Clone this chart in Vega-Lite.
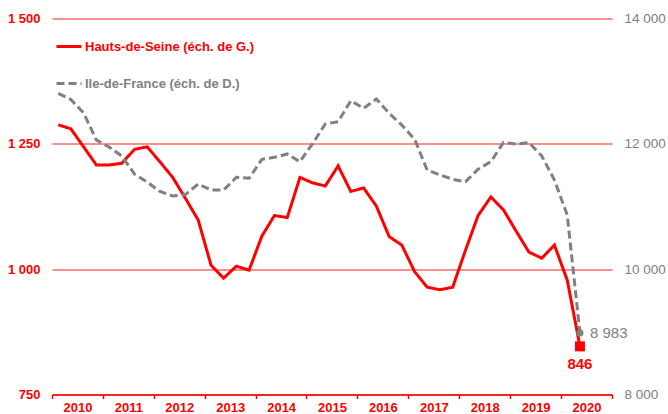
{
  "$schema": "https://vega.github.io/schema/vega-lite/v6.json",
  "width": 560,
  "height": 376,
  "autosize": {"type": "none"},
  "padding": {"left": 52, "top": 18.5, "right": 56, "bottom": 19.5},
  "background": "white",
  "config": {
    "font": "Liberation Sans",
    "view": {"stroke": null},
    "locale": {"number": {"decimal": ",", "thousands": " ", "grouping": [3], "currency": ["", " €"]}}
  },
  "data": {
    "values": [
      {"date": "2010-02-15", "hds": 1288, "idf": 12806},
      {"date": "2010-05-16", "hds": 1280, "idf": 12707},
      {"date": "2010-08-16", "hds": 1244, "idf": 12492},
      {"date": "2010-11-15", "hds": 1208, "idf": 12061},
      {"date": "2011-02-15", "hds": 1208, "idf": 11949},
      {"date": "2011-05-16", "hds": 1211, "idf": 11806},
      {"date": "2011-08-16", "hds": 1239, "idf": 11518},
      {"date": "2011-11-15", "hds": 1244, "idf": 11391},
      {"date": "2012-02-15", "hds": 1214, "idf": 11239},
      {"date": "2012-05-16", "hds": 1183, "idf": 11167},
      {"date": "2012-08-16", "hds": 1141, "idf": 11191},
      {"date": "2012-11-15", "hds": 1098, "idf": 11359},
      {"date": "2013-02-15", "hds": 1008, "idf": 11263},
      {"date": "2013-05-16", "hds": 982, "idf": 11263},
      {"date": "2013-08-16", "hds": 1006, "idf": 11466},
      {"date": "2013-11-15", "hds": 998, "idf": 11450},
      {"date": "2014-02-15", "hds": 1066, "idf": 11753},
      {"date": "2014-05-16", "hds": 1107, "idf": 11785},
      {"date": "2014-08-16", "hds": 1103, "idf": 11838},
      {"date": "2014-11-15", "hds": 1183, "idf": 11715},
      {"date": "2015-02-15", "hds": 1172, "idf": 12008},
      {"date": "2015-05-16", "hds": 1166, "idf": 12316},
      {"date": "2015-08-16", "hds": 1206, "idf": 12353},
      {"date": "2015-11-15", "hds": 1155, "idf": 12688},
      {"date": "2016-02-15", "hds": 1162, "idf": 12567},
      {"date": "2016-05-16", "hds": 1126, "idf": 12715},
      {"date": "2016-08-16", "hds": 1065, "idf": 12487},
      {"date": "2016-11-15", "hds": 1048, "idf": 12300},
      {"date": "2017-02-15", "hds": 995, "idf": 12072},
      {"date": "2017-05-16", "hds": 964, "idf": 11582},
      {"date": "2017-08-16", "hds": 959, "idf": 11503},
      {"date": "2017-11-15", "hds": 964, "idf": 11434},
      {"date": "2018-02-15", "hds": 1038, "idf": 11396},
      {"date": "2018-05-16", "hds": 1107, "idf": 11594},
      {"date": "2018-08-16", "hds": 1144, "idf": 11715},
      {"date": "2018-11-15", "hds": 1118, "idf": 12024},
      {"date": "2019-02-15", "hds": 1075, "idf": 11997},
      {"date": "2019-05-16", "hds": 1034, "idf": 12018},
      {"date": "2019-08-16", "hds": 1022, "idf": 11806},
      {"date": "2019-11-15", "hds": 1048, "idf": 11423},
      {"date": "2020-02-15", "hds": 978, "idf": 10864},
      {"date": "2020-05-16", "hds": 846, "idf": 8983}
    ]
  },
  "transform": [{"fold": ["hds", "idf"], "as": ["serie", "valeur"]}],
  "encoding": {
    "x": {
      "field": "date",
      "type": "temporal",
      "scale": {"type": "utc", "domain": [1262304000000, 1609459200000]},
      "axis": {
        "title": null,
        "values": [1262304000000, 1293840000000, 1325376000000, 1356998400000, 1388534400000, 1420070400000, 1451606400000, 1483228800000, 1514764800000, 1546300800000, 1577836800000, 1609459200000],
        "format": "%Y",
        "labelExpr": "datum.label == '2021' ? '' : datum.label",
        "labelOffset": 25.5,
        "labelFlush": false,
        "labelOverlap": false,
        "labelColor": "#ff0000",
        "labelFontWeight": "bold",
        "labelFontSize": 13,
        "labelPadding": 3,
        "domainColor": "#ff0000",
        "domainWidth": 1.5,
        "tickColor": "#ff0000",
        "tickWidth": 1.5,
        "tickSize": 4,
        "grid": false,
        "zindex": 1
      }
    }
  },
  "layer": [
    {
      "transform": [{"filter": "datum.serie == 'hds'"}],
      "encoding": {
        "y": {
          "field": "valeur",
          "type": "quantitative",
          "scale": {"domain": [750, 1500], "nice": false, "zero": false},
          "axis": {
            "orient": "left",
            "title": null,
            "values": [750, 1000, 1250, 1500],
            "format": ",d",
            "labelColor": "#ff0000",
            "labelFontWeight": "bold",
            "labelFontSize": 13,
            "labelPadding": 12,
            "domain": false,
            "ticks": false,
            "grid": true,
            "gridColor": "#ff6a6a",
            "gridWidth": 1.5
          }
        }
      },
      "layer": [
        {
          "mark": {"type": "line", "strokeWidth": 3},
          "encoding": {
            "color": {
              "field": "serie",
              "type": "nominal",
              "scale": {"domain": ["hds", "idf"], "range": ["#ff0000", "#808080"]},
              "legend": {
                "title": null,
                "orient": "none",
                "legendX": 3,
                "legendY": 14,
                "padding": 0,
                "symbolType": "stroke",
                "symbolSize": 625,
                "symbolStrokeWidth": 3,
                "rowPadding": 16,
                "labelOffset": 2,
                "labelLimit": 400,
                "labelFontSize": 13,
                "labelFontWeight": "bold",
                "labelExpr": "datum.value == 'hds' ? 'Hauts-de-Seine (éch. de G.)' : 'Ile-de-France (éch. de D.)'",
                "encode": {"labels": {"update": {"fill": {"signal": "datum.value == 'hds' ? '#ff0000' : '#808080'"}}}}
              }
            },
            "strokeDash": {
              "field": "serie",
              "type": "nominal",
              "scale": {"domain": ["hds", "idf"], "range": [[1, 0], [8, 4]]},
              "legend": {
                "title": null,
                "orient": "none",
                "legendX": 3,
                "legendY": 14,
                "padding": 0,
                "symbolType": "stroke",
                "symbolSize": 625,
                "symbolStrokeWidth": 3,
                "rowPadding": 16,
                "labelOffset": 2,
                "labelLimit": 400,
                "labelFontSize": 13,
                "labelFontWeight": "bold",
                "labelExpr": "datum.value == 'hds' ? 'Hauts-de-Seine (éch. de G.)' : 'Ile-de-France (éch. de D.)'",
                "encode": {"labels": {"update": {"fill": {"signal": "datum.value == 'hds' ? '#ff0000' : '#808080'"}}}}
              }
            }
          }
        },
        {
          "transform": [{"filter": "time(toDate(datum.date)) > 1585000000000"}],
          "mark": {"type": "square", "filled": true, "color": "#ff0000", "size": 100, "opacity": 1}
        },
        {
          "transform": [{"filter": "time(toDate(datum.date)) > 1585000000000"}],
          "mark": {"type": "text", "color": "#ff0000", "fontSize": 15, "fontWeight": "bold", "dy": 18, "align": "center", "baseline": "middle"},
          "encoding": {"text": {"field": "valeur", "type": "quantitative", "format": ",d"}}
        }
      ]
    },
    {
      "transform": [{"filter": "datum.serie == 'idf'"}],
      "encoding": {
        "y": {
          "field": "valeur",
          "type": "quantitative",
          "scale": {"domain": [8000, 14000], "nice": false, "zero": false},
          "axis": {
            "orient": "right",
            "title": null,
            "values": [8000, 10000, 12000, 14000],
            "format": ",d",
            "labelColor": "#808080",
            "labelFontSize": 13.5,
            "labelPadding": 12,
            "domain": false,
            "ticks": false,
            "grid": false
          }
        }
      },
      "layer": [
        {
          "mark": {"type": "line", "strokeWidth": 3},
          "encoding": {
            "color": {"field": "serie", "type": "nominal", "scale": {"domain": ["hds", "idf"], "range": ["#ff0000", "#808080"]}},
            "strokeDash": {"field": "serie", "type": "nominal", "scale": {"domain": ["hds", "idf"], "range": [[1, 0], [8, 4]]}}
          }
        },
        {
          "transform": [{"filter": "time(toDate(datum.date)) > 1585000000000"}],
          "mark": {"type": "circle", "color": "#808080", "size": 50, "opacity": 1}
        },
        {
          "transform": [{"filter": "time(toDate(datum.date)) > 1585000000000"}],
          "mark": {"type": "text", "color": "#808080", "fontSize": 15, "dx": 10, "align": "left", "baseline": "middle"},
          "encoding": {"text": {"field": "valeur", "type": "quantitative", "format": ",d"}}
        }
      ]
    }
  ],
  "resolve": {"scale": {"y": "independent"}}
}
